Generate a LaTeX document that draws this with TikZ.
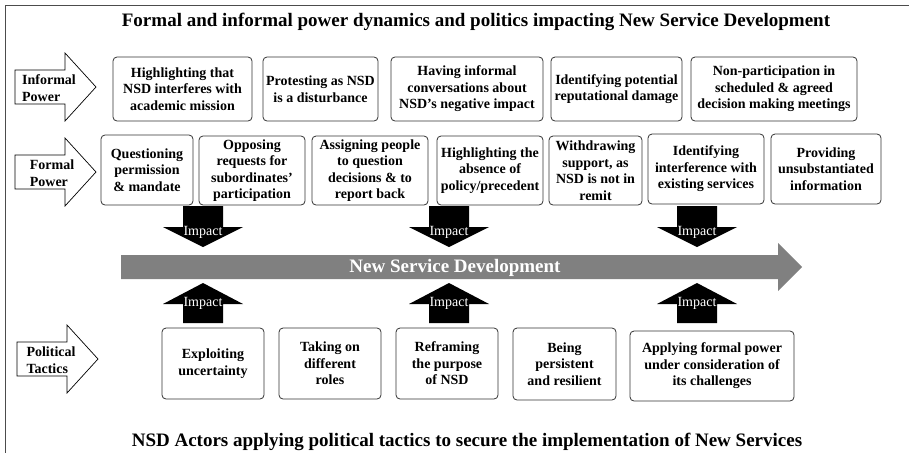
\documentclass[tikz,border=0pt]{standalone}
\usepackage{fontspec}
\setmainfont{Liberation Serif}

\begin{document}
\begin{tikzpicture}[x=1pt, y=-1pt,
    box/.style={draw=black!80, line width=0.8pt, fill=white, rounded corners=4pt, align=center, inner sep=0pt,
        font=\bfseries\fontsize{14}{16.5}\selectfont},
    heading/.style={inner sep=0pt, font=\bfseries\fontsize{19}{22}\selectfont},
    impact/.style={inner sep=0pt, text=white, font=\fontsize{14}{16}\selectfont},
    sidelabel/.style={inner sep=0pt, align=left, font=\bfseries\fontsize{14}{16.5}\selectfont},
    impactdown/.pic={
        \fill (-20,-21) -- (20,-21) -- (20,0) -- (40,0) -- (0,20) -- (-40,0) -- (-20,0) -- cycle;
        \node [impact] (-label) at (0,5) {Impact};
    },
    impactup/.pic={
        \fill (-20,19) -- (20,19) -- (20,0) -- (40,0) -- (0,-21) -- (-40,0) -- (-20,0) -- cycle;
        \node [impact] (-label) at (0,-1) {Impact};
    },
    sidearrow/.pic={
        \draw [fill=white, line width=0.7pt] (0,-17) -- (50,-17) -- (50,-34) -- (81,0) -- (50,34) -- (50,17) -- (0,17) -- cycle;
    }]
    \useasboundingbox (0,0) rectangle (909,453);
    \draw [black!70, line width=0.8pt] (909,5) -- (5,5) -- (5,453);

    % headings
    \node [heading] (top) at (476,22) {Formal and informal power dynamics and politics impacting New Service Development};
    \node [heading] (bottom) at (467,442) {NSD Actors applying political tactics to secure the implementation of New Services};

    % main arrow
    \fill [black!50] (121,255) -- (778,255) -- (778,243) -- (802,267) -- (778,291) -- (778,279) -- (121,279) -- cycle;
    \node [heading, text=white] (nsd) at (455,268) {New Service Development};

    % impact arrows
    \pic (d1) at (203,227) {impactdown};
    \pic (d2) at (449,227) {impactdown};
    \pic (d3) at (697,227) {impactdown};
    \pic (u1) at (203,304) {impactup};
    \pic (u2) at (449,304) {impactup};
    \pic (u3) at (697,304) {impactup};

    % side arrows
    \pic (informal) at (15,87) {sidearrow};
    \node [sidelabel] (informal-label) at (49,88) {Informal\\Power};
    \pic (formal) at (15,172) {sidearrow};
    \node [sidelabel] (formal-label) at (52,173) {Formal\\Power};
    \pic (political) at (17,359) {sidearrow};
    \node [sidelabel] (political-label) at (51,360) {Political\\Tactics};

    % informal power
    \node [box, minimum width=139, minimum height=64] (i1) at (182.5,89) {Highlighting that\\NSD interferes with\\academic mission};
    \node [box, minimum width=115, minimum height=64] (i2) at (320.5,89) {Protesting as NSD\\is a disturbance};
    \node [box, minimum width=152, minimum height=64] (i3) at (467,89) {Having informal\\conversations about\\NSD’s negative impact};
    \node [box, minimum width=131, minimum height=64] (i4) at (616.5,89) {Identifying potential\\reputational damage};
    \node [box, minimum width=166, minimum height=64] (i5) at (774,89) {Non-participation in\\scheduled \& agreed\\decision making meetings};

    % formal power
    \node [box, minimum width=92, minimum height=70] (f1) at (147,170) {Questioning\\permission\\\& mandate};
    \node [box, minimum width=106, minimum height=69] (f2) at (252,170.5) {Opposing\\requests for\\subordinates’\\participation};
    \node [box, minimum width=116, minimum height=69] (f3) at (370,170.5) {Assigning people\\to question\\decisions \& to\\report back};
    \node [box, minimum width=106, minimum height=69] (f4) at (490,170.5) {Highlighting the\\absence of\\policy/precedent};
    \node [box, minimum width=93, minimum height=69] (f5) at (595.5,170.5) {Withdrawing\\support, as\\NSD is not in\\remit};
    \node [box, minimum width=116, minimum height=70] (f6) at (706,169) {Identifying\\interference with\\existing services};
    \node [box, minimum width=110, minimum height=70] (f7) at (826,169) {Providing\\unsubstantiated\\information};

    % political tactics
    \node [box, minimum width=102, minimum height=71] (p1) at (213,363.5) {Exploiting\\uncertainty};
    \node [box, minimum width=102, minimum height=71] (p2) at (330,363.5) {Taking on\\different\\roles};
    \node [box, minimum width=102, minimum height=71] (p3) at (447,363.5) {Reframing\\the purpose\\of NSD};
    \node [box, minimum width=103, minimum height=72] (p4) at (564.5,364) {Being\\persistent\\and resilient};
    \node [box, minimum width=164, minimum height=70] (p5) at (712,366) {Applying formal power\\under consideration of\\its challenges};
\end{tikzpicture}
\end{document}
